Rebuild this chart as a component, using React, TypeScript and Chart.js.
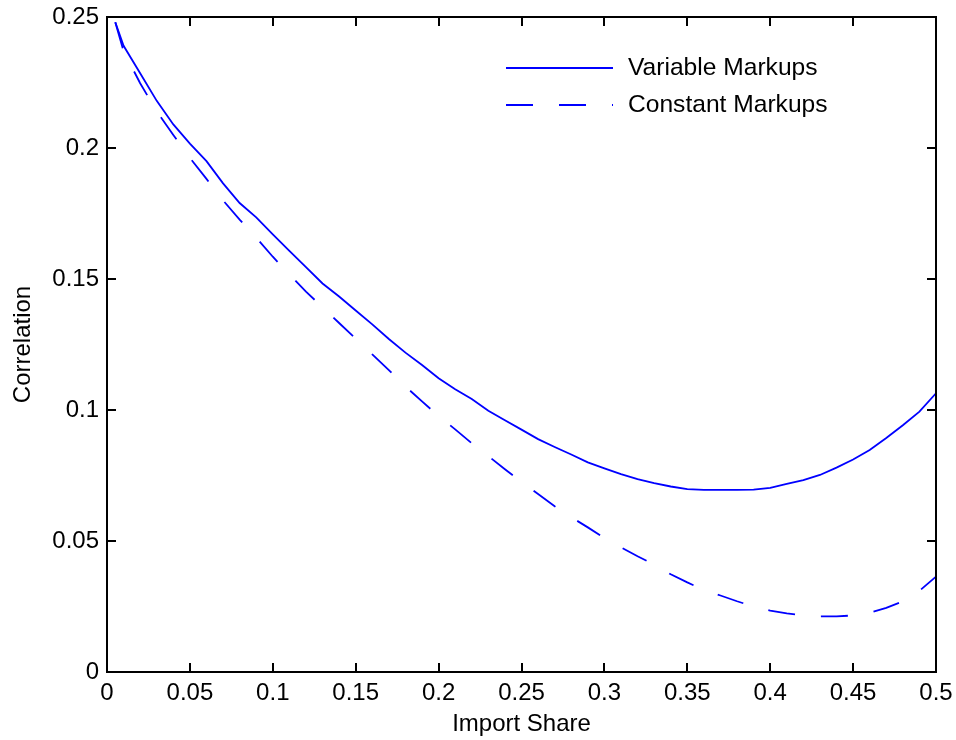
import React, { useEffect, useRef } from "react";
import { Chart, registerables } from "chart.js";

Chart.register(...registerables);

const importShare = [
  0.005, 0.01, 0.02, 0.03, 0.04, 0.05, 0.06, 0.07, 0.08, 0.09, 0.1,
  0.11, 0.12, 0.13, 0.14, 0.15, 0.16, 0.17, 0.18, 0.19, 0.2,
  0.21, 0.22, 0.23, 0.24, 0.25, 0.26, 0.27, 0.28, 0.29, 0.3,
  0.31, 0.32, 0.33, 0.34, 0.35, 0.36, 0.37, 0.38, 0.39, 0.4,
  0.41, 0.42, 0.43, 0.44, 0.45, 0.46, 0.47, 0.48, 0.49, 0.5,
];

const variableMarkups = [
  0.248, 0.239, 0.2285, 0.218, 0.209, 0.2017, 0.195, 0.1865, 0.179, 0.1735, 0.167,
  0.1607, 0.1545, 0.1483, 0.1433, 0.138, 0.1327, 0.1271, 0.1219, 0.1172, 0.1121,
  0.1079, 0.1042, 0.0997, 0.0961, 0.0925, 0.0889, 0.0859, 0.083, 0.08, 0.0777,
  0.0755, 0.0736, 0.0721, 0.0708, 0.0698, 0.0695, 0.0695, 0.0695, 0.0696, 0.0703,
  0.0718, 0.0732, 0.0752, 0.078, 0.0811, 0.0847, 0.0893, 0.0942, 0.0994, 0.1064,
];

const constantMarkups = [
  0.248, 0.237, 0.2247, 0.214, 0.205, 0.1962, 0.1882, 0.18, 0.1727, 0.1658, 0.1585,
  0.1517, 0.1452, 0.1392, 0.1332, 0.1272, 0.1212, 0.1152, 0.109, 0.1033, 0.0977,
  0.0926, 0.0873, 0.0824, 0.0774, 0.0725, 0.0679, 0.0633, 0.0591, 0.0552, 0.0511,
  0.0476, 0.0442, 0.041, 0.0373, 0.0342, 0.0313, 0.0292, 0.027, 0.025, 0.0234,
  0.0224, 0.0216, 0.0212, 0.0212, 0.0216, 0.0226, 0.0245, 0.027, 0.031, 0.0364,
];

const xTicks = [0, 0.05, 0.1, 0.15, 0.2, 0.25, 0.3, 0.35, 0.4, 0.45, 0.5];
const yTicks = [0, 0.05, 0.1, 0.15, 0.2, 0.25];
const seriesLabels = ["Variable Markups", "Constant Markups"];
const xTitle = "Import Share";
const yTitle = "Correlation";

const FONT = "'Liberation Sans', Arial, Helvetica, sans-serif";
const BLUE = "#0000ff";
const DASH = [27, 26];

const fmt = (v: number) => String(Number(Number(v).toFixed(2)));

const matlabBox = {
  id: "matlabBox",
  afterDatasetsDraw(chart: any) {
    const { ctx, chartArea } = chart;
    const { left, right, top, bottom } = chartArea;
    const xs = chart.scales.x;
    const ys = chart.scales.y;
    ctx.save();
    ctx.strokeStyle = "#000";
    ctx.lineWidth = 2;
    ctx.setLineDash([]);
    ctx.strokeRect(left, top, right - left, bottom - top);
    const tl = 9;
    ctx.beginPath();
    xTicks.forEach((v) => {
      const px = Math.round(xs.getPixelForValue(v));
      ctx.moveTo(px, bottom);
      ctx.lineTo(px, bottom - tl);
      ctx.moveTo(px, top);
      ctx.lineTo(px, top + tl);
    });
    yTicks.forEach((v) => {
      const py = Math.round(ys.getPixelForValue(v));
      ctx.moveTo(left, py);
      ctx.lineTo(left + tl, py);
      ctx.moveTo(right, py);
      ctx.lineTo(right - tl, py);
    });
    ctx.stroke();

    // legend
    const x0 = right - 430;
    const x1 = right - 323;
    const tx = right - 308;
    const rows = [top + 51, top + 88];
    chart.data.datasets.forEach((ds: any, i: number) => {
      const y = rows[i];
      ctx.beginPath();
      ctx.strokeStyle = ds.borderColor;
      ctx.lineWidth = ds.borderWidth;
      ctx.setLineDash(ds.borderDash || []);
      ctx.moveTo(x0, y);
      ctx.lineTo(x1, y);
      ctx.stroke();
      ctx.setLineDash([]);
      ctx.fillStyle = "#000";
      ctx.font = `24.6px ${FONT}`;
      ctx.textBaseline = "middle";
      ctx.textAlign = "left";
      ctx.fillText(ds.label, tx, y);
    });
    ctx.restore();
  },
};

export default function App() {
  const ref = useRef<HTMLCanvasElement | null>(null);
  useEffect(() => {
    if (!ref.current) return;
    const chart = new Chart(ref.current, {
      type: "line",
      data: {
        datasets: [
          {
            label: seriesLabels[0],
            data: importShare.map((x, i) => ({ x, y: variableMarkups[i] })),
            borderColor: BLUE,
            borderWidth: 1.8,
            pointRadius: 0,
            tension: 0,
            fill: false,
          },
          {
            label: seriesLabels[1],
            data: importShare.map((x, i) => ({ x, y: constantMarkups[i] })),
            borderColor: BLUE,
            borderWidth: 1.8,
            borderDash: DASH,
            pointRadius: 0,
            tension: 0,
            fill: false,
          },
        ],
      },
      options: {
        animation: false,
        responsive: false,
        maintainAspectRatio: false,
        layout: { padding: { top: 17, right: 20, left: 0, bottom: 0 } },
        plugins: { legend: { display: false }, tooltip: { enabled: false } },
        scales: {
          x: {
            type: "linear",
            position: "bottom",
            min: 0,
            max: 0.5,
            afterBuildTicks: (s: any) => {
              s.ticks = xTicks.map((v) => ({ value: v }));
            },
            ticks: {
              callback: (v: any) => fmt(v),
              color: "#000",
              font: { family: FONT, size: 24 },
              padding: 7,
              maxRotation: 0,
              autoSkip: false,
            },
            grid: { display: false, drawTicks: false },
            border: { display: false },
            title: {
              display: true,
              text: xTitle,
              color: "#000",
              font: { family: FONT, size: 24 },
              padding: { top: 0, bottom: 1 },
            },
            afterFit: (s: any) => {
              s.height = 68;
              s.paddingLeft = 0;
              s.paddingRight = 0;
            },
          },
          y: {
            type: "linear",
            position: "left",
            min: 0,
            max: 0.25,
            afterBuildTicks: (s: any) => {
              s.ticks = yTicks.map((v) => ({ value: v }));
            },
            ticks: {
              callback: (v: any) => fmt(v),
              color: "#000",
              font: { family: FONT, size: 24 },
              padding: 8,
              autoSkip: false,
            },
            grid: { display: false, drawTicks: false },
            border: { display: false },
            title: {
              display: true,
              text: yTitle,
              color: "#000",
              font: { family: FONT, size: 24 },
              padding: { top: 9, bottom: 0 },
            },
            afterFit: (s: any) => {
              s.width = 107;
              s.paddingTop = 0;
              s.paddingBottom = 0;
            },
          },
        },
      },
      plugins: [matlabBox],
    });
    return () => chart.destroy();
  }, []);
  return (
    <div style={{ position: "absolute", left: 0, top: 0, width: 956, height: 740, background: "#fff" }}>
      <canvas ref={ref} width={956} height={740} style={{ display: "block" }} />
    </div>
  );
}
